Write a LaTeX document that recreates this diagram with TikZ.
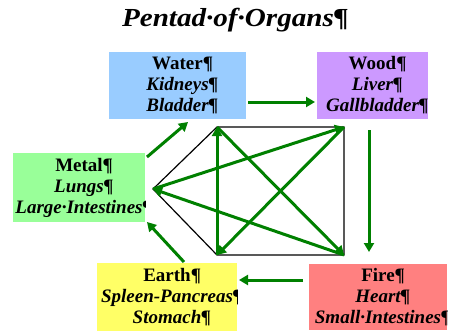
\documentclass[tikz,border=0pt]{standalone}
\usepackage{fontspec}
\setmainfont{Liberation Serif}
\newfontfamily\titlefont[FakeStretch=1.12]{Liberation Serif}
\usetikzlibrary{arrows.meta,calc}
\definecolor{waterc}{HTML}{99CCFF}
\definecolor{woodc}{HTML}{CC99FF}
\definecolor{metalc}{HTML}{99FF99}
\definecolor{earthc}{HTML}{FFFF66}
\definecolor{firec}{HTML}{FF8080}
\definecolor{arrg}{HTML}{008000}
\newcommand{\pil}{\rlap{¶}}
\tikzset{
  elem/.style={inner sep=0pt, outer sep=0pt, align=center,
    font=\fontsize{19}{21}\selectfont\bfseries},
  arr/.style={draw=arrg, line width=3pt, -{Triangle[length=9pt,width=10pt]}},
  pent/.style={draw=black, line width=1.2pt},
}
\begin{document}
\begin{tikzpicture}[x=1pt,y=-1pt]
\useasboundingbox (0,0) rectangle (450,333);
% title
\node[font=\titlefont\fontsize{26}{28}\selectfont\bfseries\itshape, anchor=base] (title) at (228,26) {Pentad·of·Organs\pil};
% boxes
\begin{scope}\clip (109,52) rectangle (246,119);
\node[elem, fill=waterc, minimum width=137pt, minimum height=67pt] (water) at (177.5,85.5)
  {Water\pil\\ \textit{Kidneys\pil}\\ \textit{Bladder\pil}};
\end{scope}
\begin{scope}\clip (317,52) rectangle (428,119);
\node[elem, fill=woodc, minimum width=111pt, minimum height=67pt] (wood) at (372.5,85.5)
  {Wood\pil\\ \textit{Liver\pil}\\ \textit{Gallbladder\pil}};
\end{scope}
\begin{scope}\clip (13,153) rectangle (145,222);
\node[elem, fill=metalc, minimum width=132pt, minimum height=69pt] (metal) at (79,187.5)
  {Metal\pil\\ \textit{Lungs\pil}\\ \textit{Large·Intestines\pil}};
\end{scope}
\begin{scope}\clip (97,263) rectangle (237,331);
\node[elem, fill=earthc, minimum width=140pt, minimum height=68pt] (earth) at (167,297)
  {Earth\pil\\ \textit{Spleen-Pancreas\pil}\\ \textit{Stomach\pil}};
\end{scope}
\begin{scope}\clip (309,264) rectangle (447,330);
\node[elem, fill=firec, minimum width=138pt, minimum height=66pt] (fire) at (378,297)
  {Fire\pil\\ \textit{Heart\pil}\\ \textit{Small·Intestines\pil}};
\end{scope}
% pentagon vertices
\coordinate (vTL) at (217,127);
\coordinate (vTR) at (344,127);
\coordinate (vBR) at (344,255);
\coordinate (vBL) at (217,255);
\coordinate (vL) at (153,189);
\draw[pent, line join=miter] (vL) -- (vTL) -- (vTR) -- (vBR) -- (vBL) -- cycle;
% control cycle (star)
\draw[arr] (vTL) -- (vBR);
\draw[arr] (vBR) -- (vL);
\draw[arr] (vL) -- (vTR);
\draw[arr] (vTR) -- (vBL);
\draw[arr] (vBL) -- (vTL);
% generating cycle
\draw[arr] ($(water.east |- 0,102)+(2,0)$) -- ($(wood.west |- 0,102)+(-2,0)$);
\draw[arr] ($(wood.south -| 369,0)+(0,11)$) -- ($(fire.north -| 369,0)+(0,-12)$);
\draw[arr] ($(fire.west |- 0,280)+(-6,0)$) -- ($(earth.east |- 0,280)+(2,0)$);
\draw[arr] ($(earth.north west)+(87,-1)$) -- ($(metal.south east)+(2,0)$);
\draw[arr] ($(metal.north east)+(2,4)$) -- ($(water.south west)+(79,3)$);
\end{tikzpicture}
\end{document}
